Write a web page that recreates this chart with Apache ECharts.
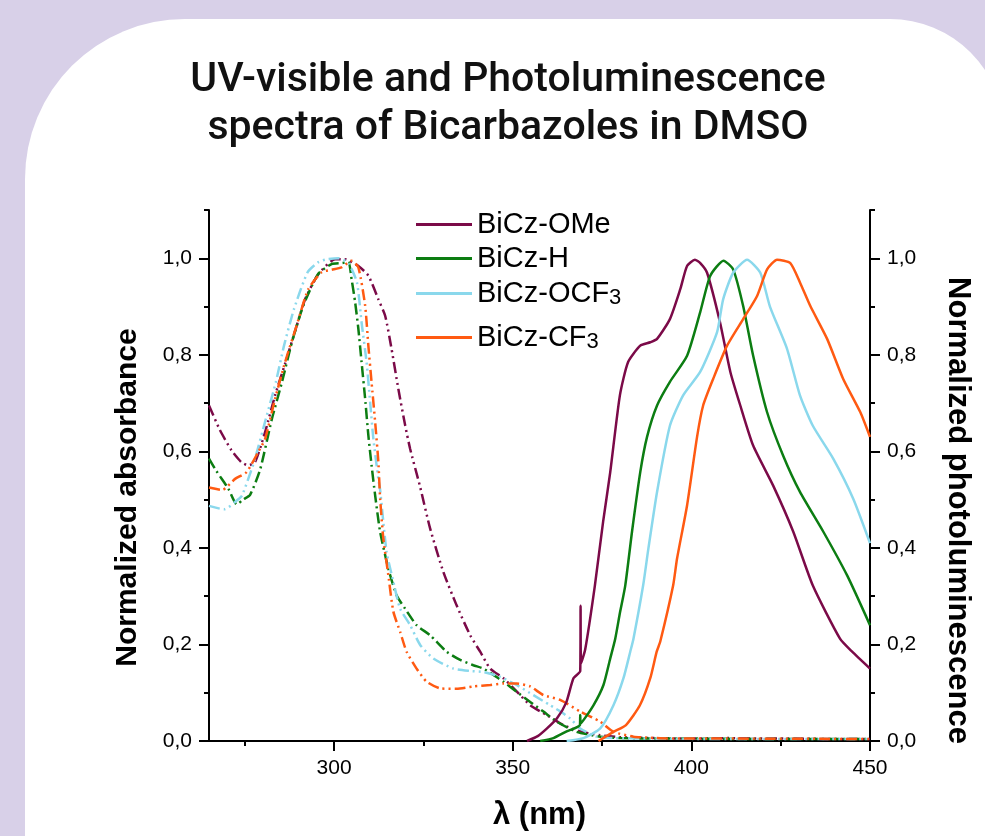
<!DOCTYPE html>
<html><head><meta charset="utf-8">
<script src="https://cdn.jsdelivr.net/npm/echarts@6/dist/echarts.min.js"></script>
<style>html,body{margin:0;padding:0;background:#d8d0e8}#chart{width:985px;height:836px}</style>
</head><body><div id="chart"></div>
<script>
// ---- data ----
const names = ['BiCz-OMe', 'BiCz-H', 'BiCz-OCF3', 'BiCz-CF3'];
const xTickLabels = [300, 350, 400, 450];
const xMinorTicks = [275, 325, 375, 425];
const yTickLabels = [0, 0.2, 0.4, 0.6, 0.8, 1.0];
const yMinorTicks = [0.1, 0.3, 0.5, 0.7, 0.9, 1.1];

// normalized absorbance [wavelength nm, value]
const absOMe = [[265,0.695],[268,0.645],[271.3,0.602],[274,0.578],[276,0.571],[277.9,0.578],[280.7,0.64],[283.5,0.716],[286.7,0.791],[289,0.847],[291.9,0.915],[295.6,0.967],[300.3,0.998],[303,0.998],[306.8,0.984],[309.6,0.964],[312.4,0.915],[314.3,0.881],[316.1,0.812],[318,0.729],[319.9,0.654],[321.3,0.605],[324,0.529],[326.9,0.44],[330.6,0.35],[334.3,0.281],[338.1,0.219],[340.9,0.185],[343.7,0.15],[347.4,0.13],[351.1,0.103],[354.9,0.074],[359.5,0.054],[364.2,0.033],[368.9,0.02],[374.5,0.012],[380,0.008],[390,0.006],[400,0.005],[410,0.006],[420,0.005],[430,0.005],[440,0.004],[450,0.004]];
const absH = [[265,0.585],[267,0.56],[270.4,0.523],[272.8,0.49],[274.5,0.5],[276.5,0.51],[279.3,0.562],[282.6,0.667],[285.4,0.743],[288.2,0.826],[291.4,0.902],[295.5,0.967],[299.3,0.988],[302,0.99],[304,0.992],[304.9,0.957],[305.9,0.909],[306.8,0.854],[307.7,0.785],[308.7,0.709],[309.6,0.633],[310.5,0.571],[311.5,0.509],[312.9,0.433],[315.2,0.357],[317.5,0.302],[319.9,0.274],[323.1,0.24],[326.9,0.219],[331.5,0.185],[335.3,0.168],[339,0.157],[341.8,0.15],[344.6,0.137],[347.4,0.123],[351.1,0.102],[354.9,0.081],[358.6,0.061],[362.3,0.04],[367.9,0.019],[374.5,0.009],[380,0.006],[390,0.005],[400,0.005],[420,0.004],[450,0.004]];
const absOCF3 = [[265,0.487],[269.2,0.48],[273.4,0.502],[274.3,0.509],[277.6,0.578],[280.9,0.667],[283.7,0.743],[286,0.819],[288.8,0.895],[292.6,0.971],[295.6,0.992],[298,0.998],[301.2,1.0],[304,0.99],[306.4,0.95],[307.7,0.867],[309.1,0.785],[310.1,0.702],[311,0.626],[312.4,0.543],[312.9,0.52],[314.7,0.392],[316.6,0.33],[318.5,0.274],[321.3,0.24],[324.1,0.199],[327.8,0.171],[333.4,0.15],[338.1,0.145],[341.8,0.143],[346.5,0.133],[351.1,0.116],[355.8,0.095],[360.5,0.074],[364,0.058],[366,0.047],[368.9,0.026],[373.5,0.009],[378,0.006],[390,0.005],[410,0.004],[450,0.004]];
const absCF3 = [[265,0.525],[268.7,0.52],[272.3,0.543],[275.5,0.557],[278.8,0.599],[280.7,0.626],[283.5,0.709],[286.3,0.785],[289.5,0.86],[292.8,0.936],[296.5,0.971],[299.3,0.976],[302.1,0.981],[304.9,0.995],[306.8,0.981],[308.7,0.902],[309.6,0.819],[310.5,0.743],[311.5,0.661],[312.4,0.578],[312.9,0.502],[313.8,0.419],[315.2,0.343],[316.6,0.268],[318.5,0.226],[320.3,0.185],[323.1,0.15],[325.9,0.123],[329.7,0.109],[334.3,0.108],[339,0.113],[343.7,0.116],[347.4,0.119],[351.1,0.119],[354.9,0.113],[358.6,0.095],[363.3,0.085],[368.9,0.061],[374.5,0.04],[378.2,0.019],[383.8,0.009],[387.5,0.007],[395,0.005],[410,0.005],[450,0.004]];

// normalized photoluminescence [wavelength nm, value]
const plOMe = [[354,0],[357,0.01],[359.6,0.026],[362.4,0.047],[365,0.08],[367,0.13],[368.9,0.145],[369,0.28],[369.1,0.16],[370.3,0.19],[373,0.322],[375.3,0.454],[377.3,0.557],[380,0.716],[382.3,0.785],[385.7,0.819],[388.5,0.826],[390.4,0.833],[394,0.874],[396.9,0.936],[398.8,0.984],[401,0.997],[402.5,0.99],[404.4,0.97],[408,0.868],[410.9,0.765],[413.7,0.695],[417.3,0.612],[422.9,0.529],[428.5,0.434],[434,0.322],[441.6,0.212],[445,0.185],[450,0.15]];
const plH = [[357.7,0],[361.4,0.006],[365.1,0.02],[368.8,0.033],[368.9,0.054],[369,0.036],[372.6,0.074],[375.4,0.116],[377.3,0.171],[378.7,0.212],[380,0.265],[381.5,0.322],[383.4,0.434],[385.7,0.557],[387.6,0.63],[390.4,0.695],[394,0.744],[398.8,0.798],[402.5,0.889],[405.3,0.964],[409,0.995],[411.7,0.977],[414.5,0.901],[417.3,0.798],[421.2,0.681],[425.7,0.591],[430.4,0.516],[436.9,0.434],[443.6,0.343],[450,0.24]];
const plOCF3 = [[365.1,0],[369.8,0.006],[374.5,0.026],[378.2,0.074],[381,0.13],[382.9,0.185],[383.8,0.212],[386.5,0.322],[388,0.4],[390.4,0.516],[394,0.653],[397.7,0.716],[402.5,0.765],[407.2,0.847],[408.9,0.915],[411.7,0.97],[415.6,0.997],[419.3,0.97],[422,0.9],[426.8,0.812],[430.4,0.716],[434,0.653],[439.7,0.585],[445.3,0.502],[450,0.41]];
const plCF3 = [[374,0],[378.2,0.019],[381.7,0.033],[385.6,0.074],[388.5,0.13],[390.3,0.185],[391.3,0.206],[394.9,0.322],[396,0.378],[398.8,0.488],[401.6,0.63],[403.3,0.695],[406.1,0.75],[410,0.819],[414.5,0.874],[418.4,0.922],[421.2,0.977],[424,0.997],[427.7,0.99],[430.4,0.95],[433.3,0.901],[438,0.833],[442.5,0.75],[447.3,0.681],[450,0.63]];

// ---- styling ----
const colors = ['#7b0a48', '#0c7d12', '#8ad8ec', '#ff5a12'];
const absDash = [[11,4,2,4,2,4],[11,4,2,4],[11,4,2,4,2,4],[11,4,2,4,2,4]];
const FONT = "'Liberation Sans', Arial, sans-serif";
const fmt = v => v.toFixed(1).replace('.', ',');

const chart = echarts.init(document.getElementById('chart'), null, {renderer: 'canvas'});

const absData = [absOMe, absH, absOCF3, absCF3];
const plData = [plOMe, plH, plOCF3, plCF3];

const series = [];
absData.forEach((d, i) => series.push({
  name: names[i] + ' (abs)', type: 'line', xAxisIndex: 0, yAxisIndex: 0,
  data: d, showSymbol: false, symbol: 'none', silent: true,
  smooth: 0.2,
  lineStyle: {color: colors[i], width: 2.5, type: absDash[i]}, z: 2
}));
plData.forEach((d, i) => series.push({
  name: names[i], type: 'line', xAxisIndex: 0, yAxisIndex: 1,
  data: d, showSymbol: false, symbol: 'none', silent: true,
  smooth: 0.2,
  itemStyle: {color: colors[i]},
  lineStyle: {color: colors[i], width: 2.5}, z: 3
}));

const legendTops = [210, 244, 279, 323];
const legendLabel = n => n.endsWith('F3') ? '{a|' + n.slice(0, -1) + '}{s|3}' : '{a|' + n + '}';
const legends = names.map((n, i) => ({
  data: [{name: n, icon: 'rect'}], left: 416, top: legendTops[i], orient: 'vertical',
  itemWidth: 56, itemHeight: 3, selectedMode: false, padding: 0,
  formatter: legendLabel,
  textStyle: {fontFamily: FONT, color: '#000',
    rich: {a: {fontFamily: FONT, fontSize: 29, lineHeight: 30, color: '#000'},
           s: {fontFamily: FONT, fontSize: 22, lineHeight: 4, verticalAlign: 'bottom', color: '#000'}}}
}));

const axLine = {show: true, onZero: false, lineStyle: {color: '#000', width: 2}};

chart.setOption({
  backgroundColor: '#d8d0e8',
  animation: false,
  title: {
    text: 'UV-visible and Photoluminescence\nspectra of Bicarbazoles in DMSO',
    left: 508, top: 57, padding: 0, textAlign: 'center',
    textStyle: {fontFamily: 'Roboto', fontWeight: 500, fontSize: 41, lineHeight: 48, color: '#111'}
  },
  graphic: [{type: 'rect', z: -100, silent: true,
    shape: {x: 25, y: 19, width: 979, height: 900, r: [160, 114, 0, 0]},
    style: {fill: '#ffffff'}}],
  legend: legends,
  grid: {left: 209, right: 115, top: 210, bottom: 93, containLabel: false},
  xAxis: [
    {type: 'value', min: 265, max: 450, position: 'bottom',
     name: 'λ (nm)', nameLocation: 'middle', nameGap: 59,
     nameTextStyle: {fontFamily: FONT, fontWeight: 'bold', fontSize: 31, color: '#000'},
     axisLine: axLine, splitLine: {show: false},
     axisTick: {show: true, customValues: xTickLabels, length: 10, lineStyle: {color: '#000', width: 2}},
     axisLabel: {customValues: xTickLabels, fontFamily: FONT, fontSize: 21, color: '#000', margin: 17}},
    {type: 'value', min: 265, max: 450, position: 'bottom',
     axisLine: {show: false}, splitLine: {show: false}, axisLabel: {show: false},
     axisTick: {show: true, customValues: xMinorTicks, length: 5, lineStyle: {color: '#000', width: 2}}}
  ],
  yAxis: [
    {type: 'value', min: 0, max: 1.1, position: 'left',
     name: 'Normalized absorbance', nameLocation: 'middle', nameGap: 66, nameRotate: 90,
     nameTextStyle: {fontFamily: FONT, fontWeight: 'bold', fontSize: 30, color: '#000', padding: [0, 44, 0, 0]},
     axisLine: axLine, splitLine: {show: false},
     axisTick: {show: true, customValues: yTickLabels, length: 10, lineStyle: {color: '#000', width: 2}},
     axisLabel: {customValues: yTickLabels, formatter: fmt, fontFamily: FONT, fontSize: 21, color: '#000', margin: 17}},
    {type: 'value', min: 0, max: 1.1, position: 'right',
     name: 'Normalized photoluminescence', nameLocation: 'middle', nameGap: 72, nameRotate: -90,
     nameTextStyle: {fontFamily: FONT, fontWeight: 'bold', fontSize: 31, color: '#000', padding: [0, 0, 0, 70]},
     axisLine: axLine, splitLine: {show: false},
     axisTick: {show: true, customValues: yTickLabels, length: 10, lineStyle: {color: '#000', width: 2}},
     axisLabel: {customValues: yTickLabels, formatter: fmt, fontFamily: FONT, fontSize: 21, color: '#000', margin: 17}},
    {type: 'value', min: 0, max: 1.1, position: 'left',
     axisLine: {show: false}, splitLine: {show: false}, axisLabel: {show: false},
     axisTick: {show: true, customValues: yMinorTicks, length: 5, lineStyle: {color: '#000', width: 2}}},
    {type: 'value', min: 0, max: 1.1, position: 'right',
     axisLine: {show: false}, splitLine: {show: false}, axisLabel: {show: false},
     axisTick: {show: true, customValues: yMinorTicks, length: 5, lineStyle: {color: '#000', width: 2}}}
  ],
  series: series
});
</script></body></html>
